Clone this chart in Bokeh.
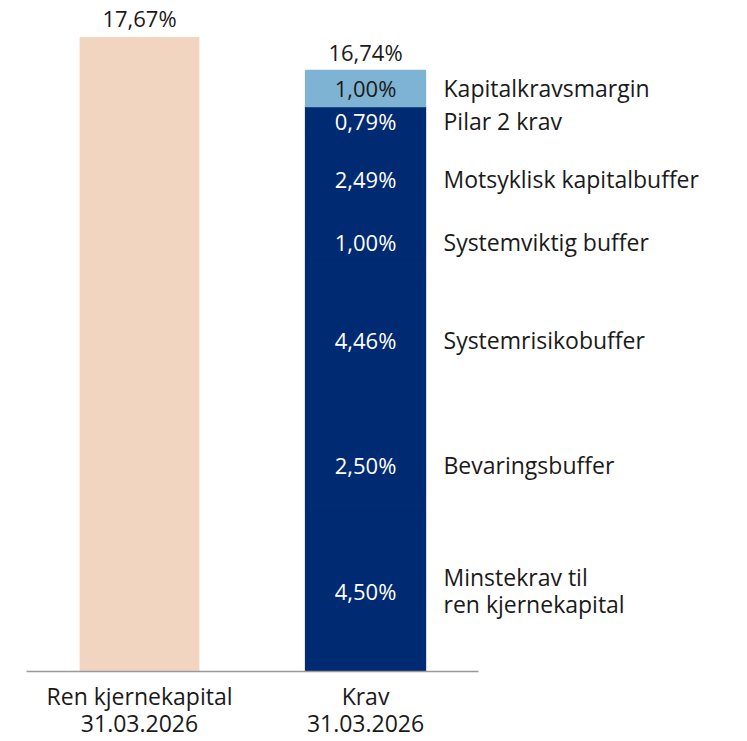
import numpy as np
from bokeh.plotting import figure
from bokeh.models import ColumnDataSource, LabelSet, Range1d, FixedTicker
from bokeh.core.properties import value
from bokeh.embed import file_html
from bokeh.resources import INLINE

# ---- data ----
bar_labels = ["Ren kjernekapital\n31.03.2026", "Krav\n31.03.2026"]
own_capital = 17.67
req_names = ["Minstekrav til\nren kjernekapital", "Bevaringsbuffer", "Systemrisikobuffer",
             "Systemviktig buffer", "Motsyklisk kapitalbuffer", "Pilar 2 krav", "Kapitalkravsmargin"]
req_values = [4.50, 2.50, 4.46, 1.00, 2.49, 0.79, 1.00]

# ---- styles ----
FONT = "Open Sans"
FS = "22px"
FS_NAME = "23px"
NAVY = "#002A72"
LIGHT = "#7FB3D3"
PEACH = "#F2D5C0"
DARK = "#1a1a1a"
seg_colors = [NAVY] * 6 + [LIGHT]
seg_text_colors = ["white"] * 6 + [DARK]


def fmt(v):
    return f"{v:.2f}".replace(".", ",") + "%"


xpos = np.arange(len(bar_labels))
vals = np.array(req_values)
tops = np.cumsum(vals)
bottoms = tops - vals
mids = (tops + bottoms) / 2
total = float(np.round(vals.sum(), 2))

p = figure(width=747, height=741, x_range=Range1d(-0.5, 2.69), y_range=Range1d(0, 18.69),
           output_backend="svg", toolbar_location=None, y_axis_location=None,
           min_border_left=26, min_border_right=0, min_border_top=0, min_border_bottom=0)
p.outline_line_color = None
p.grid.visible = False
p.background_fill_color = "white"
p.border_fill_color = "white"

BW = 0.53
# left bar
left_src = ColumnDataSource(dict(x=[xpos[0]], top=[own_capital]))
p.vbar(x="x", top="top", bottom=0, width=BW, source=left_src, fill_color=PEACH, line_color=None)

# stacked bar
seg_src = ColumnDataSource(dict(x=[xpos[1]] * len(vals), top=tops, bottom=bottoms, mid=mids,
                                label=[fmt(v) for v in vals], name=req_names,
                                color=seg_colors, tcolor=seg_text_colors))
p.vbar(x="x", top="top", bottom="bottom", width=BW, source=seg_src, fill_color="color",
       line_color="color", line_width=1.5)

tot_src = ColumnDataSource(dict(x=list(xpos), y=[own_capital, total],
                                label=[fmt(own_capital), fmt(total)]))
p.add_layout(LabelSet(x="x", y="y", text="label", source=tot_src, text_align="center",
                      text_baseline="alphabetic", y_offset=10, text_font=value(FONT),
                      text_font_size=FS, text_color=DARK))
p.add_layout(LabelSet(x="x", y="mid", text="label", source=seg_src, text_align="center",
                      text_baseline="middle", text_font=value(FONT), text_font_size=FS,
                      text_color="tcolor"))
p.add_layout(LabelSet(x="x", y="mid", text="name", source=seg_src, text_align="left",
                      text_baseline="middle", x_offset=78, text_font=value(FONT),
                      text_font_size=FS_NAME, text_color=DARK, text_line_height=0.85))

ax = p.xaxis[0]
ax.bounds = (-0.5, 1.5)
ax.ticker = FixedTicker(ticks=list(xpos))
ax.major_label_overrides = {int(i): lab for i, lab in zip(xpos, bar_labels)}
ax.axis_line_color = "#999999"
ax.axis_line_width = 1.5
ax.major_tick_line_color = None
ax.minor_tick_line_color = None
ax.major_tick_out = 0
ax.major_tick_in = 0
ax.major_label_standoff = 8
ax.major_label_text_font = FONT
ax.major_label_text_font_size = FS_NAME
ax.major_label_text_color = DARK
ax.major_label_text_line_height = 0.85

open("out.html", "w").write(file_html(p, INLINE))
